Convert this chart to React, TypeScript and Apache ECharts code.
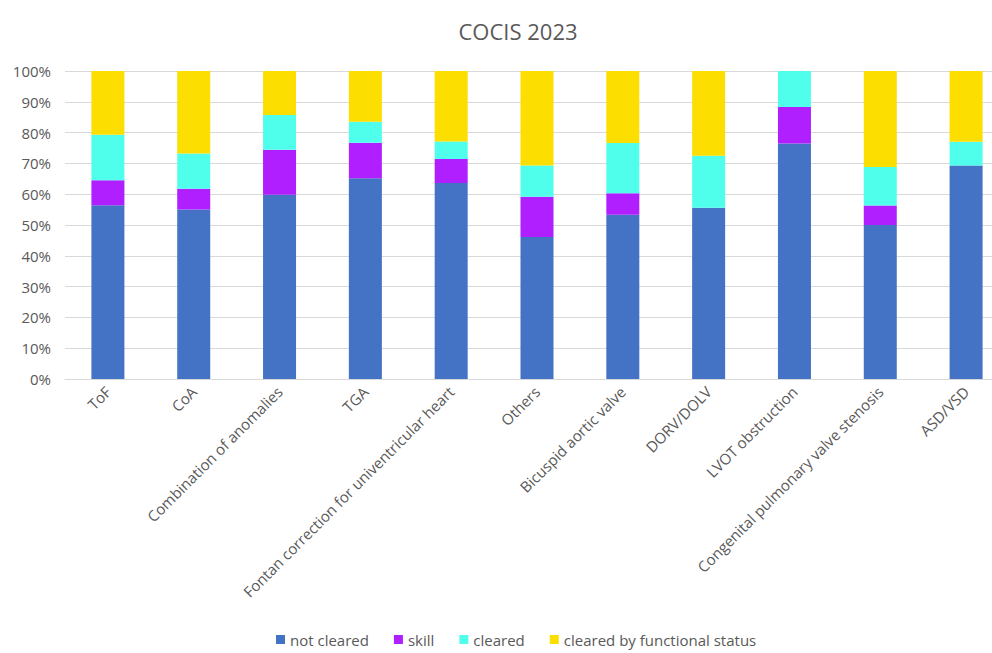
import React, { useEffect, useRef } from "react";
import * as echarts from "echarts";

const categories = [
  "ToF",
  "CoA",
  "Combination of anomalies",
  "TGA",
  "Fontan correction for univentricular heart",
  "Others",
  "Bicuspid aortic valve",
  "DORV/DOLV",
  "LVOT obstruction",
  "Congenital pulmonary valve stenosis",
  "ASD/VSD",
];

const notCleared = [56.4, 55.0, 59.8, 65.2, 63.6, 46.1, 53.3, 55.6, 76.5, 50.0, 69.3];
const skill = [8.1, 6.8, 14.6, 11.5, 7.8, 13.1, 7.0, 0, 11.8, 6.3, 0];
const cleared = [14.8, 11.4, 11.3, 6.8, 5.7, 10.1, 16.3, 16.9, 11.7, 12.5, 7.7];
const clearedFunctional = [20.7, 26.8, 14.3, 16.5, 22.9, 30.7, 23.4, 27.5, 0, 31.2, 23.0];

const yTicks = [0, 10, 20, 30, 40, 50, 60, 70, 80, 90, 100];

const seriesNames = ["not cleared", "skill", "cleared", "cleared by functional status"];
const seriesColors = ["#4472C4", "#AF1FFF", "#4FFFEC", "#FCDE00"];

export default function App() {
  const ref = useRef<HTMLDivElement>(null);
  useEffect(() => {
    document.body.style.margin = "0";
    const chart = echarts.init(ref.current!, null, { renderer: "svg" });
    const font = "'Open Sans', 'Liberation Sans', sans-serif";
    const dataSets = [notCleared, skill, cleared, clearedFunctional];
    chart.setOption({
      animation: false,
      textStyle: { fontFamily: font },
      title: {
        text: "COCIS 2023",
        left: 513,
        top: 15,
        textAlign: "center",
        textStyle: { fontSize: 22, fontWeight: "normal", color: "#595959", fontFamily: font },
      },
      grid: { left: 65, top: 71, right: 0, height: 308, containLabel: false },
      legend: {
        top: 632,
        left: 276,
        padding: 0,
        itemWidth: 9,
        itemHeight: 9,
        itemGap: 25,
        itemStyle: { borderWidth: 0 },
        icon: "rect",
        textStyle: { fontSize: 15, color: "#595959", fontFamily: font },
        data: seriesNames,
      },
      xAxis: {
        type: "category",
        data: categories,
        axisLine: { lineStyle: { color: "#d9d9d9" } },
        axisTick: { show: false },
        axisLabel: {
          rotate: 45,
          interval: 0,
          fontSize: 15,
          color: "#595959",
          margin: 10,
          fontFamily: font,
        },
      },
      yAxis: {
        type: "value",
        min: 0,
        max: 100,
        interval: 10,
        axisLine: { show: false },
        axisTick: { show: false },
        splitLine: { lineStyle: { color: "#d9d9d9" } },
        axisLabel: {
          formatter: (v: number) => (yTicks.includes(v) ? v + "%" : ""),
          fontSize: 15,
          color: "#595959",
          margin: 14,
          fontFamily: font,
        },
      },
      series: seriesNames.map((name, i) => ({
        name,
        type: "bar",
        stack: "total",
        barWidth: 33,
        itemStyle: { color: seriesColors[i] },
        data: dataSets[i],
      })),
    });
    return () => chart.dispose();
  }, []);
  return (
    <div style={{ width: 992, height: 653, overflow: "hidden", position: "relative" }}>
      <div ref={ref} style={{ width: 1009, height: 653 }} />
    </div>
  );
}
